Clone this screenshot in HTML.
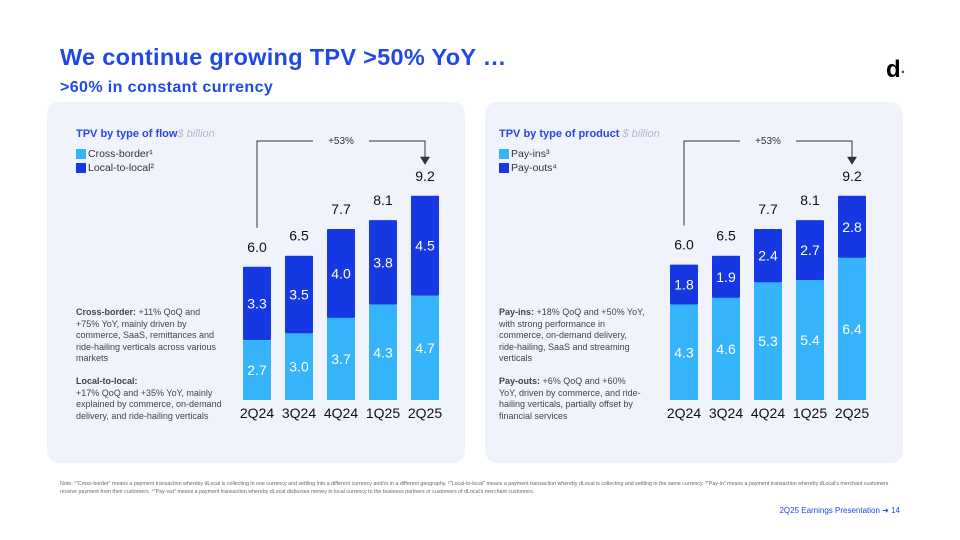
<!DOCTYPE html>
<html><head><meta charset="utf-8"><style>
body{margin:0;width:960px;height:540px;background:#fff;font-family:"Liberation Sans",sans-serif;position:relative;overflow:hidden}
.abs{position:absolute}
.panel{position:absolute;top:102px;height:361px;background:#f0f3fb;border-radius:12px}
.ptitle{position:absolute;font-size:11px;color:#2a45e0;font-weight:bold;white-space:nowrap}
.ptitle span{color:#b5b9c8;font-style:italic;font-weight:normal}
.leg{position:absolute;font-size:10.5px;color:#333;display:flex;align-items:center}
.leg i{display:inline-block;width:10px;height:10px;margin-right:2px}
.desc{position:absolute;font-size:9px;line-height:11.5px;color:#444;width:146px}
svg text{font-family:"Liberation Sans",sans-serif}
</style></head><body>
<div class="abs" style="left:60px;top:44px;font-size:23.5px;font-weight:bold;color:#1f49e6;letter-spacing:0.3px">We continue growing TPV &gt;50% YoY …</div>
<div class="abs" style="left:60px;top:79px;font-size:16px;font-weight:bold;color:#1f49e6;letter-spacing:0.4px">&gt;60% in constant currency</div>
<div class="abs" style="left:886px;top:56px;font-size:24px;font-weight:bold;color:#000">d<span style="color:#1f49e6;font-size:16px">·</span></div>

<div class="panel" style="left:47px;width:418px"></div>
<div class="panel" style="left:485px;width:418px"></div>

<div class="ptitle" style="left:76px;top:128px">TPV by type of flow<span>$ billion</span></div>
<div class="leg" style="left:76px;top:148px"><i style="background:#36b4fb"></i>Cross-border¹</div>
<div class="leg" style="left:76px;top:162px"><i style="background:#1638e3"></i>Local-to-local²</div>
<div class="desc" style="left:76px;top:307px"><b>Cross-border:</b> +11% QoQ and +75% YoY, mainly driven by commerce, SaaS, remittances and ride-hailing verticals across various markets<br><br style="line-height:8px"><b>Local-to-local:</b><br>+17% QoQ and +35% YoY, mainly explained by commerce, on-demand delivery, and ride-hailing verticals</div>

<div class="ptitle" style="left:499px;top:128px">TPV by type of product <span>$ billion</span></div>
<div class="leg" style="left:499px;top:148px"><i style="background:#36b4fb"></i>Pay-ins³</div>
<div class="leg" style="left:499px;top:162px"><i style="background:#1638e3"></i>Pay-outs⁴</div>
<div class="desc" style="left:499px;top:307px"><b>Pay-ins:</b> +18% QoQ and +50% YoY, with strong performance in commerce, on-demand delivery, ride-hailing, SaaS and streaming verticals<br><br style="line-height:8px"><b>Pay-outs:</b> +6% QoQ and +60% YoY, driven by commerce, and ride-hailing verticals, partially offset by financial services</div>

<svg id="chart" class="abs" style="left:0;top:0" width="960" height="540"></svg>

<div class="abs" style="left:60px;top:480px;width:840px;font-size:5.3px;line-height:8px;color:#666">Note: ¹"Cross-border" means a payment transaction whereby dLocal is collecting in one currency and settling into a different currency and/or in a different geography. ²"Local-to-local" means a payment transaction whereby dLocal is collecting and settling in the same currency. ³"Pay-in" means a payment transaction whereby dLocal's merchant customers receive payment from their customers. ⁴"Pay-out" means a payment transaction whereby dLocal disburses money in local currency to the business partners or customers of dLocal's merchant customers.</div>
<div class="abs" style="left:770px;top:506px;width:130px;text-align:right;font-size:8px;color:#1f49e6">2Q25 Earnings Presentation ➜ 14</div>

<script>
const categories=["2Q24","3Q24","4Q24","1Q25","2Q25"];
const crossBorder=[2.7,3.0,3.7,4.3,4.7];
const localToLocal=[3.3,3.5,4.0,3.8,4.5];
const flowTotals=["6.0","6.5","7.7","8.1","9.2"];
const payIns=[4.3,4.6,5.3,5.4,6.4];
const payOuts=[1.8,1.9,2.4,2.7,2.8];
const productTotals=["6.0","6.5","7.7","8.1","9.2"];
const growthLabel="+53%";

const svg=document.getElementById('chart');
const NS="http://www.w3.org/2000/svg";
const baseY=400, scale=22.2, barW=28, pitch=42;
const y=v=>baseY-v*scale;
function mk(tag,attrs,txt){const e=document.createElementNS(NS,tag);for(const k in attrs)e.setAttribute(k,attrs[k]);if(txt!=null)e.textContent=txt;svg.appendChild(e);return e;}
function draw(x0,low,high,totals,prefix){
  categories.forEach((c,i)=>{
    const x=x0+i*pitch, cx=x+barW/2, tot=low[i]+high[i];
    const r1=mk('rect',{x:x,y:y(low[i]),width:barW,height:low[i]*scale,fill:'#36b4fb'});
    
    
    const r2=mk('rect',{x:x,y:y(tot),width:barW,height:high[i]*scale,fill:'#1638e3',rx:1});
    
    
    const t1=mk('text',{x:cx,y:y(low[i]/2)+5,'text-anchor':'middle','font-size':14,fill:'#fff'},low[i].toFixed(1));
    
    
    const t2=mk('text',{x:cx,y:y(low[i]+high[i]/2)+5,'text-anchor':'middle','font-size':14,fill:'#fff'},high[i].toFixed(1));
    
    
    const t3=mk('text',{x:cx,y:y(tot)-15,'text-anchor':'middle','font-size':14,fill:'#111'},totals[i]);
    
    
    const t4=mk('text',{x:cx,y:418,'text-anchor':'middle','font-size':14,fill:'#111'},c);
    
    
  });
  const xa=x0+barW/2, xb=x0+4*pitch+barW/2, n=categories.length-1;
  const topA=y(low[0]+high[0])-39, topB=y(low[n]+high[n])-31;
  const mid=(xa+xb)/2;
  const p=mk('path',{d:`M${xa},${topA} V141 H${mid-28} M${mid+28},141 H${xb} V${topB-8}`,fill:'none',stroke:'#333','stroke-width':1});
  
  
  const a=mk('path',{d:`M${xb-5},${topB-8} L${xb+5},${topB-8} L${xb},${topB} Z`,fill:'#333'});
  
  
  const g=mk('text',{x:mid,y:144,'text-anchor':'middle','font-size':10,fill:'#333'},growthLabel);
  
  
}
draw(243,crossBorder,localToLocal,flowTotals,'flow');
draw(670,payIns,payOuts,productTotals,'product');
</script>
</body></html>
